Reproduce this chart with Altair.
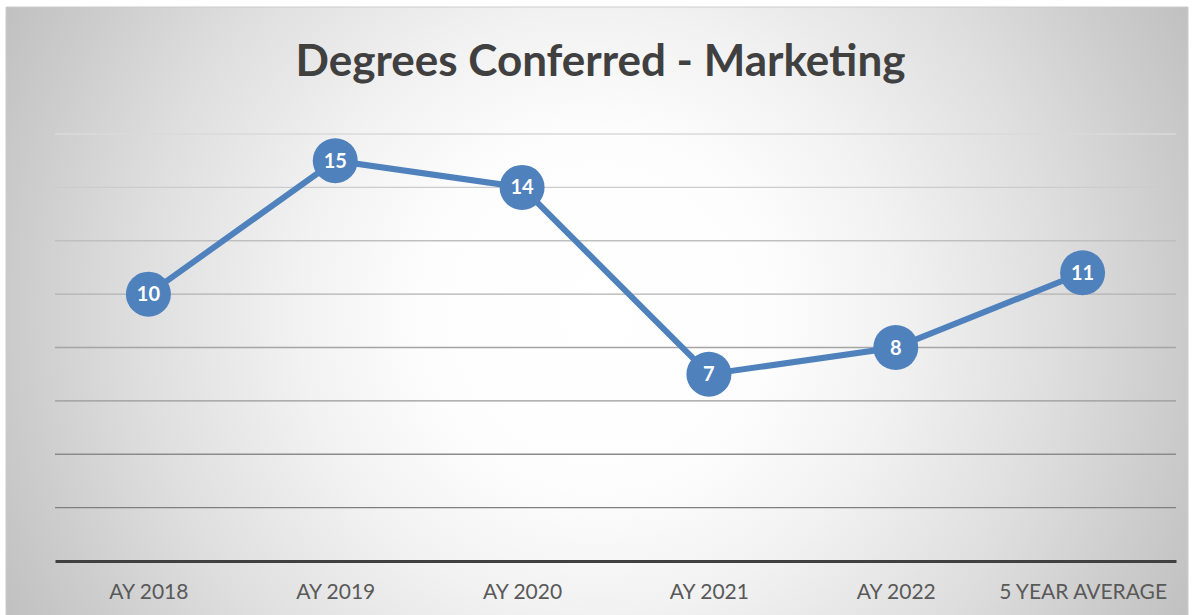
import altair as alt
import pandas as pd

categories = ["AY 2018", "AY 2019", "AY 2020", "AY 2021", "AY 2022", "5 YEAR AVERAGE"]
values = [10, 15, 14, 7, 8, 10.8]
labels = ["10", "15", "14", "7", "8", "11"]
grid_values = [2, 4, 6, 8, 10, 12, 14, 16]

df = pd.DataFrame({"cat": categories, "val": values, "lab": labels})
grid_df = pd.DataFrame({"g": grid_values})
bg_df = pd.DataFrame({"k": [0]})

W, H = 1121, 427
PAD_L, PAD_T, PAD_R, PAD_B = 55, 134, 18, 54
BLUE = "#4F81BD"

x_enc = alt.X("cat:N", sort=categories,
              scale=alt.Scale(type="point", padding=0.5),
              axis=alt.Axis(title=None, ticks=False, grid=False, labelAngle=0, zindex=2,
                            labelFont="Lato", labelFontSize=21, labelColor="#595959",
                            labelPadding=20, domainColor="#404040", domainWidth=3))
y_scale = alt.Scale(domain=[0, 16], nice=False, zero=True)

bg = alt.Chart(bg_df).mark_rect(
    fill=alt.Gradient(gradient="radial", x1=0.5, y1=0.5, r1=0, x2=0.5, y2=0.5, r2=0.6,
                      stops=[alt.GradientStop(offset=0, color="#ffffff"),
                             alt.GradientStop(offset=0.25, color="#fdfdfd"),
                             alt.GradientStop(offset=0.42, color="#f2f2f2"),
                             alt.GradientStop(offset=0.65, color="#dedede"),
                             alt.GradientStop(offset=0.83, color="#cbcbcb"),
                             alt.GradientStop(offset=1, color="#bababa")]),
    stroke="#cccccc", strokeWidth=1
).encode(
    x=alt.value(-PAD_L + 6), x2=alt.value(W + PAD_R - 6),
    y=alt.value(-PAD_T + 7), y2=alt.value(H + PAD_B + 2)
)

grid = alt.Chart(grid_df).mark_rule(strokeWidth=1.3).encode(
    y=alt.Y("g:Q", scale=y_scale, axis=None),
    color=alt.Color("g:Q", scale=alt.Scale(domain=[2, 16], range=["#7f7f7f", "#dadada"]),
                    legend=None)
)

line = alt.Chart(df).mark_line(color=BLUE, strokeWidth=6).encode(
    x=x_enc, y=alt.Y("val:Q", scale=y_scale, axis=None)
)
pts = alt.Chart(df).mark_point(filled=True, shape="circle", size=2025, color=BLUE, opacity=1).encode(
    x=alt.X("cat:N", sort=categories), y=alt.Y("val:Q", scale=y_scale)
)
txt = alt.Chart(df).mark_text(color="white", font="Lato", fontWeight="bold", fontSize=20,
                              baseline="middle", align="center", dy=1).encode(
    x=alt.X("cat:N", sort=categories), y=alt.Y("val:Q", scale=y_scale), text="lab:N"
)

chart = alt.layer(bg, grid, line, pts, txt).properties(
    width=W, height=H,
    title=alt.TitleParams("Degrees Conferred - Marketing", font="Lato", fontSize=44,
                          fontWeight="bold", color="#404040", anchor="middle",
                          baseline="alphabetic", offset=-113, dx=-15, zindex=2),
    padding={"left": PAD_L, "top": PAD_T, "right": PAD_R, "bottom": PAD_B},
    autosize=alt.AutoSizeParams(type="none"),
    background="white"
).configure_view(stroke=None)

chart.save("out.html", embed_options={"renderer": "svg", "actions": False})
